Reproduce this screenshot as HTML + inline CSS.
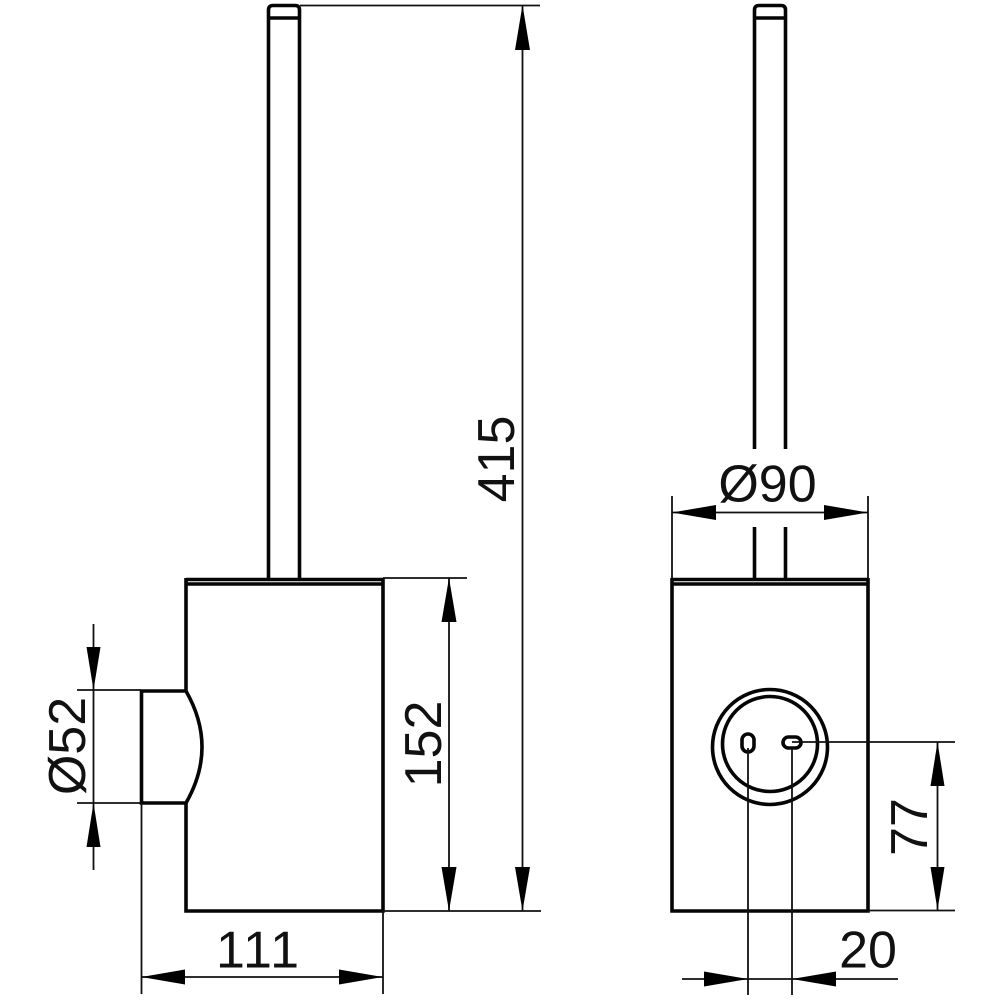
<!DOCTYPE html>
<html>
<head>
<meta charset="utf-8">
<style>
html,body{margin:0;padding:0;background:#fff;}
svg{display:block;}
text{font-family:"Liberation Sans",sans-serif;font-size:52px;fill:#111;}
.m{fill:none;stroke:#050505;stroke-width:3.6;}
.t{fill:none;stroke:#111;stroke-width:1.8;}
.a{fill:#000;stroke:none;}
</style>
</head>
<body>
<svg width="1000" height="1000" viewBox="0 0 1000 1000" xmlns="http://www.w3.org/2000/svg">
<!-- left view -->
<path class="m" d="M268.500 578V10Q268.500 5.500 273 5.500H295Q299.500 5.500 299.500 10V578"/>
<path class="m" d="M268.500 18H299.500"/>
<path class="m" d="M186 579.500H383M186 584H383"/>
<path class="m" d="M186 578V691M186 803V911H383V578"/>
<path class="m" d="M186 691H141.500V803H186Q218 747 186 691Z"/>
<!-- right view -->
<path class="m" d="M754.500 449V10Q754.500 5.500 759 5.500H781Q785.500 5.500 785.500 10V449"/>
<path class="m" d="M754.500 18H785.500"/>
<path class="m" d="M754.500 527V578M785.500 527V578"/>
<path class="m" d="M672 579.500H868M672 584H868"/>
<path class="m" d="M672 578V911H868V578"/>
<circle class="m" cx="770" cy="747" r="57.500"/>
<circle class="m" cx="770" cy="744" r="47.500"/>
<rect class="m" x="742" y="734" width="12" height="18" rx="6"/>
<rect class="m" x="783" y="737" width="18" height="11" rx="5.500"/>
<!-- dimension lines -->
<path class="t" d="M300 5.500H540M383 911H541M383 578H467M522.500 5V911M449 578V911"/>
<path class="t" d="M77 690H141M77 803H141M93.500 624V870"/>
<path class="t" d="M141.500 803V994M383 911V994M141 977H383"/>
<path class="t" d="M672 496V578M868 496V578M672 512.500H868"/>
<path class="t" d="M792 742H955M868 910.500H955M937.500 742V910"/>
<path class="t" d="M748 748V995M792 748V995M682 979H898"/>
<!-- arrowheads -->
<path class="a" d="M522.500 5L515 50H530ZM522.500 911L515 867H530Z"/>
<path class="a" d="M449 578L441.500 622H456.500ZM449 911L441.500 867H456.500Z"/>
<path class="a" d="M93.500 690L86.500 647H100.500ZM93.500 803L86.500 847H100.500Z"/>
<path class="a" d="M141.500 977L185 969.500V984.500ZM383 977L339 969.500V984.500Z"/>
<path class="a" d="M672 512.500L716 505V520ZM868 512.500L824 505V520Z"/>
<path class="a" d="M937.500 742L930.500 786H944.500ZM937.500 910L930.500 867H944.500Z"/>
<path class="a" d="M748 979L704 971.500V986.500ZM792 979L836 971.500V986.500Z"/>
<!-- labels -->
<text x="258.500" y="967.500" text-anchor="middle" letter-spacing="2">111</text>
<text x="767.500" y="501.500" text-anchor="middle">Ø90</text>
<text x="868" y="967.500" text-anchor="middle">20</text>
<text transform="translate(514 459) rotate(-90)" text-anchor="middle">415</text>
<text transform="translate(441 744) rotate(-90)" text-anchor="middle">152</text>
<text transform="translate(85 746) rotate(-90)" text-anchor="middle">Ø52</text>
<text transform="translate(927 827) rotate(-90)" text-anchor="middle">77</text>
</svg>
</body>
</html>
